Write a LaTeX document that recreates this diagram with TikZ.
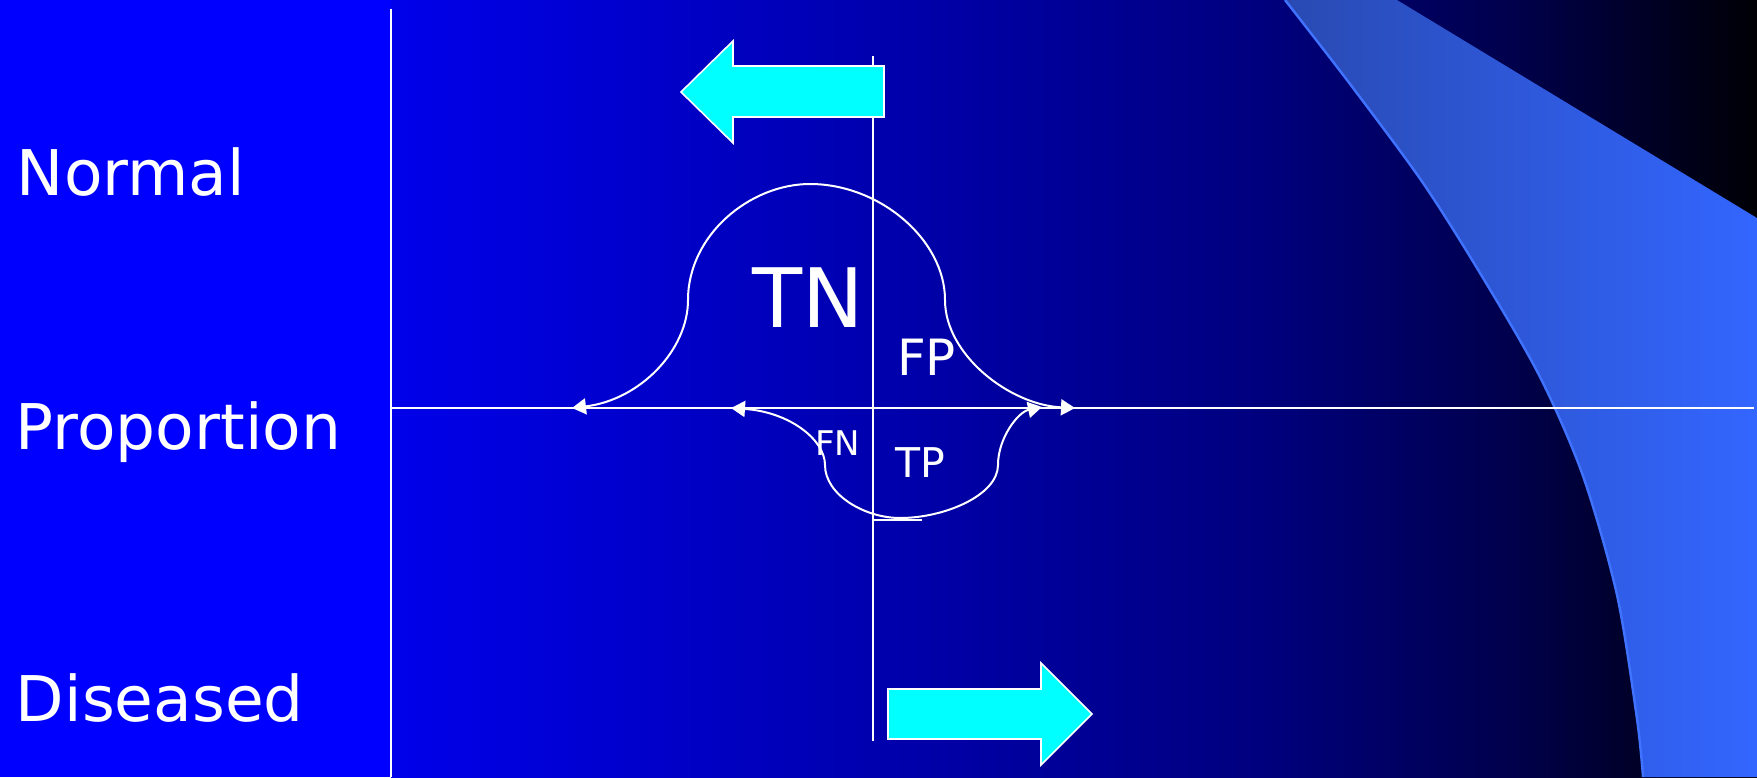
\documentclass[tikz,border=0pt]{standalone}
\usepackage{fontspec}
\setmainfont{DejaVu Sans}
\usetikzlibrary{arrows.meta}
\pgfdeclarehorizontalshading{bgshade}{100bp}{rgb(0bp)=(0,0,0.92); rgb(25bp)=(0,0,0.92); rgb(56.5bp)=(0,0,0.5); rgb(66bp)=(0,0,0.3); rgb(75bp)=(0,0,0.02); rgb(100bp)=(0,0,0.02)}
\pgfdeclarehorizontalshading{bandshade}{100bp}{rgb(0bp)=(0.16,0.29,0.70); rgb(25bp)=(0.16,0.29,0.70); rgb(75bp)=(0.2,0.4,1); rgb(100bp)=(0.2,0.4,1)}
\definecolor{bandedge}{rgb}{0.25,0.45,1}
\definecolor{arrowcyan}{rgb}{0,1,1}
\tikzset{
 axisline/.style={white, line width=1pt},
 curvearrow/.style={white, line width=1pt, {Triangle[length=7pt,width=8pt]}-{Triangle[length=7pt,width=8pt]}},
 bigarrow/.style={fill=arrowcyan, draw=white, line width=0.8pt, line join=miter},
 lab/.style={text=white, anchor=base west, inner sep=0pt, outer sep=0pt}
}
\begin{document}
\begin{tikzpicture}[x=0.5pt,y=-0.5pt]
\useasboundingbox (0,0) rectangle (1757,777);
% background
\shade[shading=bgshade] (391,0) rectangle (1757,777);
\fill[blue] (0,0) rectangle (391,777);
% light band
\shade[shading=bandshade] plot[smooth] coordinates {(1285,0) (1350,84) (1423,183) (1483,278) (1540,377) (1583,476) (1617,595) (1637,719) (1643,777)} -- (1757,777) -- (1757,218) -- (1397,0) -- cycle;
\draw[bandedge, line width=1.2pt] plot[smooth] coordinates {(1285,0) (1350,84) (1423,183) (1483,278) (1540,377) (1583,476) (1617,595) (1637,719) (1643,777)};
% axes
\coordinate (vl1) at (391,9);
\coordinate (vl2) at (391,777);
\coordinate (vc1) at (873,56);
\coordinate (vc2) at (873,741);
\coordinate (h1) at (391,408);
\coordinate (h2) at (1754,408);
\coordinate (t1) at (873,520);
\coordinate (t2) at (922,520);
\draw[axisline] (vl1) -- (vl2);
\draw[axisline] (vc1) -- (vc2);
\draw[axisline] (h1) -- (h2);
\draw[axisline] (t1) -- (t2);
% big cyan arrows
\draw[bigarrow] (884,66) -- (733,66) -- (733,41) -- (681,92) -- (733,143) -- (733,117) -- (884,117) -- cycle;
\draw[bigarrow] (888,689) -- (1041,689) -- (1041,663) -- (1092,714) -- (1041,765) -- (1041,739) -- (888,739) -- cycle;
% curves
\coordinate (b1) at (572,408);
\coordinate (b2) at (1075,408);
\draw[curvearrow] (b1) .. controls (640,400) and (688,350) .. (688,300) .. controls (688,235) and (750,184) .. (810,184) .. controls (880,184) and (945,240) .. (945,300) .. controls (945,355) and (1010,405) .. (b2);
\coordinate (p1) at (731,408);
\coordinate (p2) at (1042,407);
\draw[curvearrow] (p1) .. controls (790,412) and (825,440) .. (825,465) .. controls (825,495) and (865,518) .. (900,518) .. controls (945,518) and (998,495) .. (998,465) .. controls (998,438) and (1018,412) .. (p2);
% labels
\node[lab, font=\fontsize{31.5pt}{36pt}\selectfont] (normal) at (17,195) {Normal};
\node[lab, font=\fontsize{31.5pt}{36pt}\selectfont] (prop) at (16,449) {Proportion};
\node[lab, font=\fontsize{31.5pt}{36pt}\selectfont] (dis) at (16,721) {Diseased};
\node[lab, font=\fontsize{41pt}{46pt}\selectfont] (tn) at (752,327) {TN};
\node[lab, font=\fontsize{25pt}{30pt}\selectfont] (fp) at (897,375) {FP};
\node[lab, font=\fontsize{17pt}{20pt}\selectfont] (fn) at (815,455) {FN};
\node[lab, font=\fontsize{20.5pt}{24pt}\selectfont] (tp) at (895,477) {TP};
\end{tikzpicture}
\end{document}
